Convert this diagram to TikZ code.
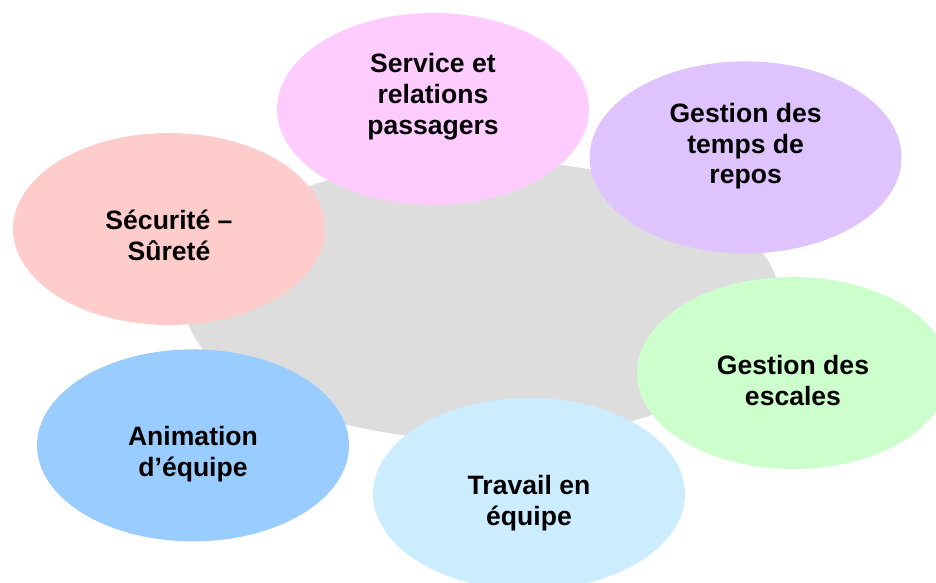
\documentclass[tikz,border=0pt]{standalone}
\usepackage{fontspec}
\setmainfont{Liberation Sans}
\usepackage{tikz}
\usepackage{xcolor}
\usetikzlibrary{shapes.geometric}
\definecolor{FontColor}{HTML}{000000}
\definecolor{GreyNC}{HTML}{DDDDDD}
\definecolor{PinkNC}{HTML}{FFCCFF}
\definecolor{LilacNC}{HTML}{DEC3FD}
\definecolor{RoseNC}{HTML}{FFCCCC}
\definecolor{BlueNC}{HTML}{99CCFF}
\definecolor{GreenNC}{HTML}{CCFFCC}
\definecolor{SkyNC}{HTML}{CCECFF}
\newcommand\nodesrv{Service et\\relations\\passagers}
\newcommand\nodetps{Gestion des\\temps de\\repos}
\newcommand\nodesec{Sécurité –\\Sûreté}
\newcommand\nodeanim{Animation\\d’équipe}
\newcommand\nodeesc{Gestion des\\escales}
\newcommand\nodetrav{Travail en\\équipe}
\tikzstyle{blobstyle} = [ellipse, inner sep=0pt, minimum width=7.8cm, minimum height=4.8cm]
\tikzstyle{bl} = [blobstyle, draw=none]
\tikzstyle{txt} = [align=center, text=FontColor, font=\bfseries\fontsize{18.9pt}{22pt}\selectfont]
\begin{document}
\begin{tikzpicture}
\useasboundingbox (0, 0) rectangle (23.4, 14.575);
\node[ellipse, inner sep=0pt, minimum width=14.9cm, minimum height=7cm, fill=GreyNC] (core) at (12.05, 7.075) {};
\node[bl, fill=PinkNC] (srv) at (10.825, 11.85) {};
\node[bl, fill=LilacNC] (tps) at (18.64, 10.64) {};
\node[bl, fill=RoseNC] (sec) at (4.225, 8.85) {};
\node[bl, fill=BlueNC] (anim) at (4.825, 3.44) {};
\node[bl, fill=GreenNC] (esc) at (19.825, 5.25) {};
\node[bl, fill=SkyNC] (trav) at (13.225, 2.225) {};
\node[txt] (srvt) at ([yshift=0.3cm]srv.center) {\nodesrv};
\node[txt] (tpst) at ([yshift=0.28cm]tps.center) {\nodetps};
\node[txt] (sect) at ([yshift=-0.17cm]sec.center) {\nodesec};
\node[txt] (animt) at ([yshift=-0.22cm]anim.center) {\nodeanim};
\node[txt] (esct) at ([yshift=-0.18cm]esc.center) {\nodeesc};
\node[txt] (travt) at ([yshift=-0.22cm]trav.center) {\nodetrav};
\end{tikzpicture}
\end{document}
